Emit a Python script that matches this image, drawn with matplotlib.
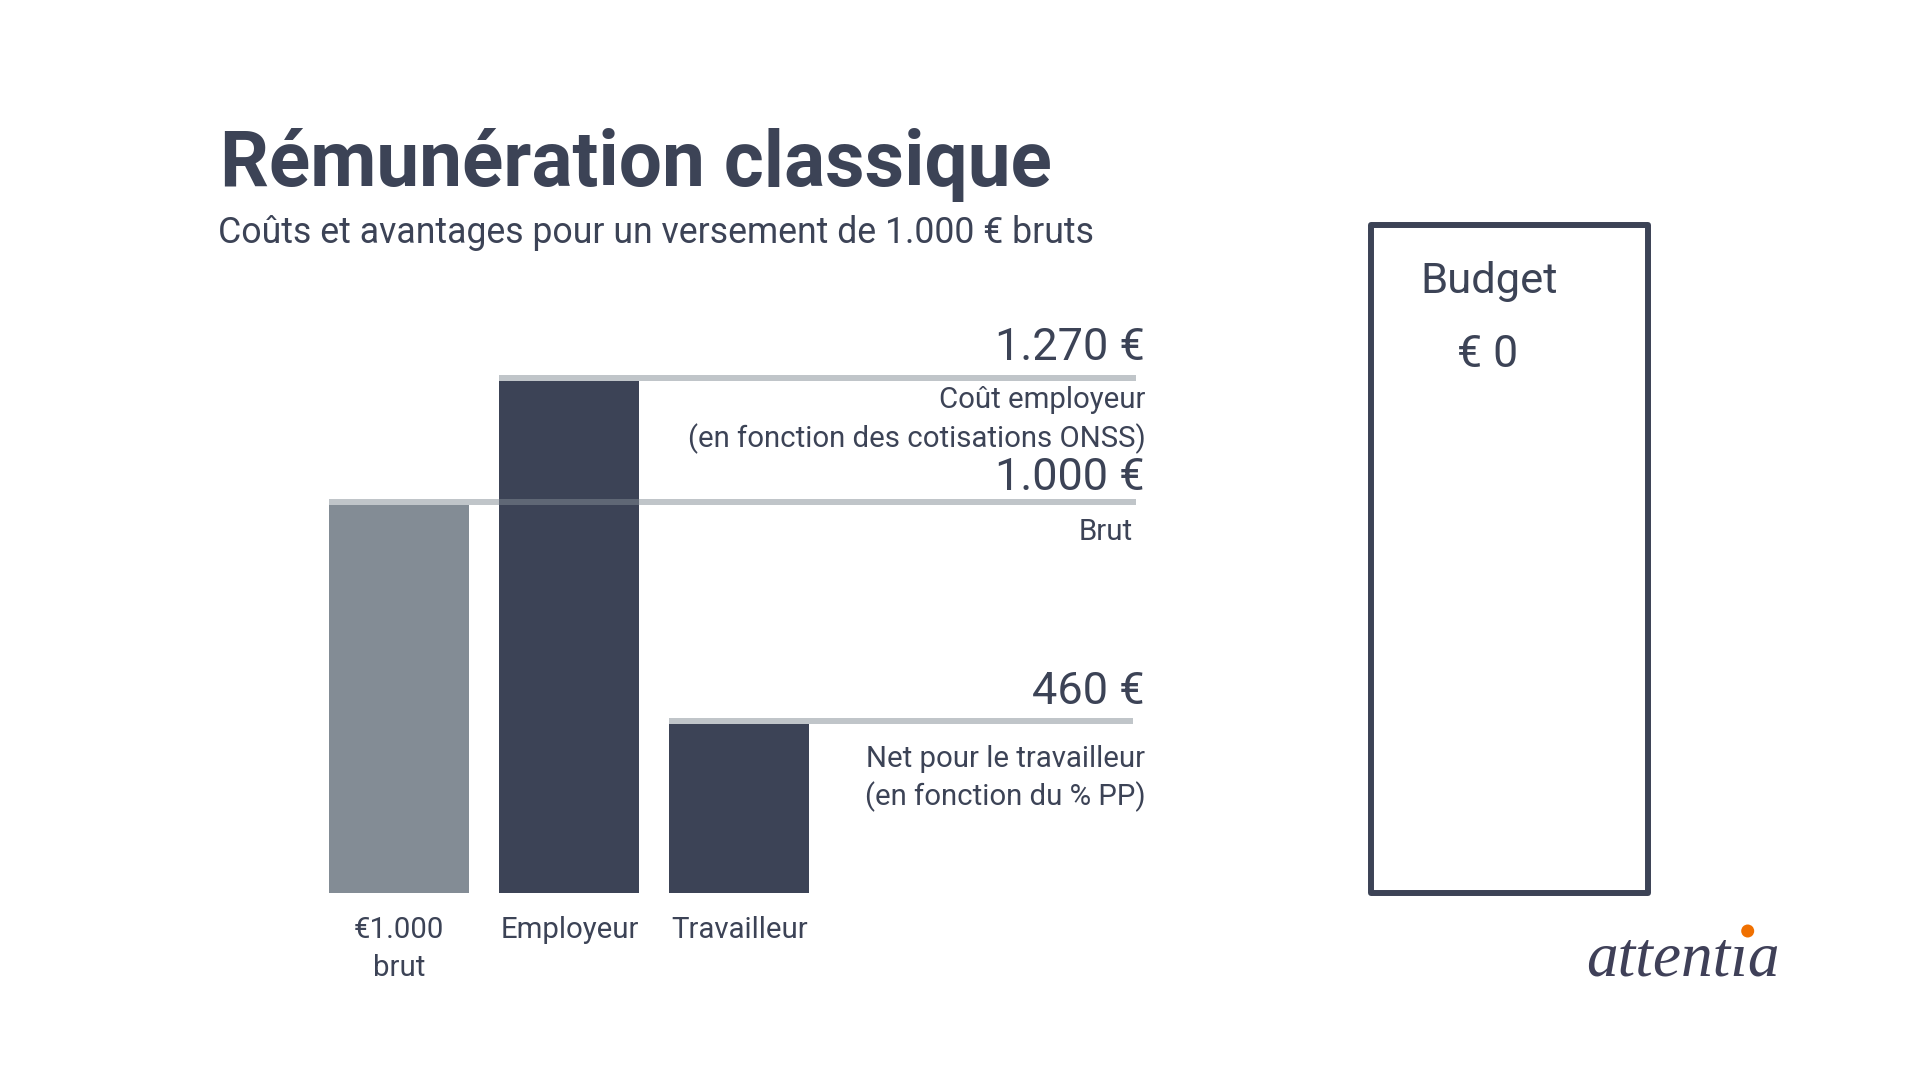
import matplotlib
matplotlib.use("Agg")
import matplotlib.pyplot as plt
from matplotlib.patches import Rectangle, Ellipse
from matplotlib.transforms import Affine2D

categories = ["€1.000\nbrut", "Employeur", "Travailleur"]
bar_values = [1000, 1320, 437]
bar_colors = ["#838c95", "#3c4356", "#3c4356"]
value_labels = ["1.000 €", "1.270 €", "460 €"]
title = "Rémunération classique"
subtitle = "Coûts et avantages pour un versement de 1.000 € bruts"

W, H = 1921, 1080
DARK = "#3c4356"
SANS = ["Roboto", "DejaVu Sans"]

fig = plt.figure(figsize=(W / 100, H / 100), dpi=100, facecolor="white")
ax = fig.add_axes([0, 0, 1, 1])
ax.axis("off")

# scales: bars are 170 px apart, 0.388 px per euro, baseline at y=893 px
X0, XU, Y0, YU = 399, 170, 893.3, 0.388
BAR_W = 140 / XU
ax.set_xlim(-X0 / XU, (W - X0) / XU)
ax.set_ylim(-(H - Y0) / YU, Y0 / YU)

ax.bar(range(3), bar_values, width=BAR_W, color=bar_colors, linewidth=0, zorder=2)

# pale reference bands sitting on the top of each bar
band_h = 6 / YU
band_ends = [(1136 - X0) / XU, (1136 - X0) / XU, (1133 - X0) / XU]
for i, v in enumerate(bar_values):
    left = i - BAR_W / 2
    ax.add_patch(Rectangle((left, v), band_ends[i] - left, band_h,
                           facecolor="#838c95", alpha=0.5, linewidth=0, zorder=3))

px = Affine2D().scale(1 / W, -1 / H).translate(0, 1) + fig.transFigure


def txt(x, y, s, size, ha="left", weight="normal", family=None, color=DARK, **kw):
    return fig.text(x, y, s, transform=px, fontsize=size, ha=ha, va="baseline",
                    fontweight=weight, family=family or SANS, color=color, **kw)


txt(220, 186, title, 55.1, weight="bold")
txt(218, 242.7, subtitle, 25.7)

txt(1145, 360, value_labels[1], 32.5, ha="right")
txt(1145.5, 408.5, "Coût employeur", 21.2, ha="right")
txt(1145.5, 447, "(en fonction des cotisations ONSS)", 21.2, ha="right")
txt(1145, 490, value_labels[0], 32.5, ha="right")
txt(1132.5, 540, "Brut", 21.2, ha="right")
txt(1145, 704, value_labels[2], 32.5, ha="right")
txt(1145.5, 767, "Net pour le travailleur", 21.2, ha="right")
txt(1145.5, 805, "(en fonction du % PP)", 21.2, ha="right")

label_x = [399, 570, 739.5]
for x, c in zip(label_x, categories):
    for j, line in enumerate(c.split("\n")):
        txt(x, 938 + 38 * j, line, 21.2, ha="center")

# budget box
fig.add_artist(Rectangle((1371, 225), 277, 668, transform=px, fill=False,
                         edgecolor=DARK, linewidth=4.3, joinstyle="round"))
txt(1420, 292.7, "Budget", 31.3)
txt(1457, 366.7, "€ 0", 32)

# logo
txt(1586, 975, "attentıa", 45.5, family=["Liberation Serif"], color="#3f4058", style="italic")
fig.add_artist(Ellipse((1747.7, 931), 13, 13, transform=px, facecolor="#f07000", edgecolor="none"))

fig.savefig("out.png", dpi=100, facecolor="white")
